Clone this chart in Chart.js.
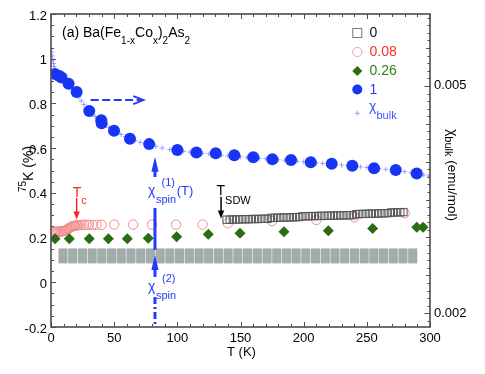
<!DOCTYPE html>
<html>
<head>
<meta charset="utf-8">
<script src="https://cdn.jsdelivr.net/npm/chart.js@4"></script>
<style>
  html, body { margin: 0; padding: 0; background: #fff; }
  #wrap { width: 485px; height: 374px; }
</style>
</head>
<body>
<div id="wrap"><canvas id="chart" width="485" height="374"></canvas></div>
<script>
// x = 0 (open squares)
const tempX0 = [139, 141.5, 144, 146.5, 149, 151.5, 154, 156.5, 159, 161.5, 164, 166.5, 169, 171.5,
  174, 176.5, 179, 181.5, 184, 186.5, 189, 191.5, 194, 196.5,
  199, 201.5, 204, 206.5, 209, 211.5, 214, 216.5, 219, 221.5, 224, 226.5, 229, 231.5, 234, 236.5, 239,
  241.5, 244, 246.5, 249, 251.5, 254, 256.5, 259, 261.5, 264, 266.5,
  269, 271.5, 274, 276.5, 279];
const kX0 = [0.280, 0.280, 0.281, 0.281, 0.281, 0.282, 0.282, 0.282, 0.283, 0.283, 0.283, 0.284, 0.284, 0.284,
  0.288, 0.288, 0.289, 0.289, 0.290, 0.290, 0.290, 0.291, 0.291, 0.292,
  0.295, 0.295, 0.296, 0.296, 0.296, 0.297, 0.297, 0.297, 0.298, 0.298, 0.298, 0.299, 0.299, 0.299, 0.300, 0.300, 0.300,
  0.305, 0.305, 0.306, 0.306, 0.307, 0.307, 0.307, 0.308, 0.308, 0.309, 0.309,
  0.312, 0.312, 0.313, 0.313, 0.314];

// x = 0.08 (open circles)
const tempX008 = [2, 3, 4, 5, 6, 7, 8, 9, 10, 11, 12, 13, 14, 15, 16, 17, 18, 19, 20, 21, 22, 24, 26, 28, 30, 33, 36, 40,
  50, 65, 80, 99, 120, 140, 175, 210, 240, 280];
const kX008 = [0.226, 0.226, 0.226, 0.226, 0.226, 0.227, 0.227, 0.228, 0.229, 0.231, 0.234, 0.237, 0.241, 0.244, 0.247,
  0.250, 0.252, 0.253, 0.254, 0.255, 0.256, 0.256, 0.257, 0.257, 0.257, 0.257, 0.257, 0.257,
  0.258, 0.258, 0.258, 0.258, 0.258, 0.264, 0.274, 0.279, 0.291, 0.309];

// x = 0.26 (diamonds)
const tempX026 = [3.2, 14.5, 30.3, 45.4, 60.4, 77, 99.5, 124.5, 149.6, 184.4, 219.5, 254.6, 289.5, 294.5];
const kX026 = [0.195, 0.195, 0.195, 0.195, 0.195, 0.197, 0.204, 0.215, 0.219, 0.226, 0.231, 0.241, 0.246, 0.246];

// x = 1 (filled circles)
const tempX1 = [3.2, 6.6, 8.3, 13.9, 20.3, 30.3, 39.8, 40.1, 49.9, 62.5, 77.7, 100, 115.1, 130.4, 145.1, 160.1,
  175.2, 190, 205.6, 222.2, 238.5, 255.7, 272.9, 289.5];
const kX1 = [0.932, 0.923, 0.916, 0.888, 0.851, 0.766, 0.725, 0.711, 0.678, 0.642, 0.618, 0.592, 0.580, 0.577,
  0.568, 0.559, 0.550, 0.547, 0.537, 0.530, 0.521, 0.510, 0.502, 0.487];

// bulk susceptibility, emu/mol (right axis)
const tempChi = [0.5, 1, 1.5, 2, 2.5, 3, 4, 5, 6.5, 8, 10, 12, 14, 16, 18, 20, 22, 24, 26, 28, 30, 32.5, 35, 37.5,
  40, 43, 46, 49, 52, 55.5, 59, 62.5, 66.5, 70.5, 74.5, 78.5, 83, 88, 94, 100,
  105, 110, 115, 120, 125, 130, 135, 140, 145, 150, 155, 160, 165, 170, 175, 180, 185, 190, 195, 200,
  205, 210, 215, 220, 225, 230, 235, 240, 245, 250, 255, 260, 265, 270, 275, 280, 285, 290, 295, 299];
const chiBulk = [0.005447, 0.005395, 0.005342, 0.005296, 0.005256, 0.005216, 0.005177, 0.005150, 0.005131, 0.005111,
  0.005084, 0.005051, 0.005018, 0.004979, 0.004939, 0.004900, 0.004854, 0.004801, 0.004755, 0.004708,
  0.004669, 0.004629, 0.004596, 0.004563, 0.004530, 0.004491, 0.004451, 0.004418, 0.004388, 0.004359,
  0.004332, 0.004306, 0.004280, 0.004257, 0.004237, 0.004220, 0.004201, 0.004181, 0.004161, 0.004148,
  0.004137, 0.004128, 0.004117, 0.004110, 0.004102, 0.004097, 0.004086, 0.004078, 0.004071, 0.004065,
  0.004058, 0.004051, 0.004045, 0.004038, 0.004028, 0.004025, 0.004020, 0.004013, 0.004005, 0.003999,
  0.003991, 0.003984, 0.003978, 0.003975, 0.003963, 0.003955, 0.003947, 0.003939, 0.003931, 0.003923,
  0.003916, 0.003905, 0.003900, 0.003892, 0.003881, 0.003869, 0.003856, 0.003842, 0.003825, 0.003811];

// chi_spin^(2) band (grey blocks): temperatures and K range
const bandT = [9.5, 17.2, 24.9, 32.6, 40.3, 48, 55.6, 63.3, 71, 78.7, 86.4, 94.1, 101.8, 109.5, 117.2, 124.8,
  132.5, 140.2, 147.9, 155.6, 163.3, 171, 178.7, 186.4, 194, 201.7, 209.4, 217.1, 224.8, 232.5, 240.2,
  247.9, 255.6, 263.2, 270.9, 278.6, 286.3];
const bandK = [0.086, 0.150];

// tick labels
const xTicks = [0, 50, 100, 150, 200, 250, 300];
const leftTicks = [-0.2, 0, 0.2, 0.4, 0.6, 0.8, 1, 1.2];
const rightTicks = [0.002, 0.005];
const seriesNames = ['0', '0.08', '0.26', '1'];

const FONT = '"Liberation Sans", Arial, sans-serif';
Chart.defaults.font.family = FONT;
Chart.defaults.font.size = 13;
Chart.defaults.color = '#000';

const pts = (xs, ys) => xs.map((t, i) => ({ x: t, y: ys[i] }));

function line(ctx, x1, y1, x2, y2) {
  ctx.beginPath(); ctx.moveTo(x1, y1); ctx.lineTo(x2, y2); ctx.stroke();
}
function head(ctx, x, tipY, dir, len, hw) {
  // dir = -1 points up, +1 points down
  ctx.beginPath();
  ctx.moveTo(x, tipY);
  ctx.lineTo(x - hw, tipY - dir * len);
  ctx.lineTo(x + hw, tipY - dir * len);
  ctx.closePath();
  ctx.fill();
}
function rich(ctx, x, y, parts) {
  let cx = x;
  parts.forEach(p => {
    ctx.font = p[1] + 'px ' + FONT;
    ctx.fillText(p[0], cx, y + (p[2] || 0));
    cx += ctx.measureText(p[0]).width;
  });
  return cx - x;
}
function richWidth(ctx, parts) {
  let w = 0;
  parts.forEach(p => { ctx.font = p[1] + 'px ' + FONT; w += ctx.measureText(p[0]).width; });
  return w;
}

// axis frame with inward ticks on all four sides
const framePlugin = {
  id: 'frame',
  afterDatasetsDraw(chart) {
    const { ctx, chartArea: a, scales: { x, y, y2 } } = chart;
    ctx.save();
    ctx.strokeStyle = '#4d4d4d';
    ctx.lineWidth = 1;
    for (let t = 0; t <= 300; t += 10) {
      const px = Math.round(x.getPixelForValue(t)) + 0.5;
      const len = t % 50 === 0 ? 5 : 3;
      line(ctx, px, a.bottom, px, a.bottom - len);
      line(ctx, px, a.top, px, a.top + len);
    }
    for (let i = -4; i <= 24; i++) {
      const py = Math.round(y.getPixelForValue(i * 0.05)) + 0.5;
      line(ctx, a.left, py, a.left + (i % 4 === 0 ? 5 : 3), py);
    }
    for (let i = 19; i <= 59; i++) {
      const py = Math.round(y2.getPixelForValue(i * 0.0001)) + 0.5;
      const len = (i === 20 || i === 50) ? 5.5 : (i % 5 === 0 ? 4 : 2.5);
      line(ctx, a.right, py, a.right - len, py);
    }
    ctx.lineWidth = 1.6;
    ctx.strokeRect(a.left, a.top, a.right - a.left, a.bottom - a.top);
    ctx.restore();
  }
};

// arrows, labels, title, legend, axis titles
const annotatePlugin = {
  id: 'annotate',
  afterDatasetsDraw(chart) {
    const { ctx, scales: { x, y } } = chart;
    const X = t => x.getPixelForValue(t);
    const Y = k => y.getPixelForValue(k);
    const blue = 'rgb(34,58,250)';
    ctx.save();
    ctx.textBaseline = 'alphabetic';

    // chi_spin arrows at T ~ 82 K
    const ax = X(82.3);
    ctx.strokeStyle = blue; ctx.fillStyle = blue; ctx.lineWidth = 3;
    head(ctx, ax, Y(0.562), -1, 15, 3.6);
    line(ctx, ax, Y(0.562) + 14, ax, Y(0.471));
    line(ctx, ax, Y(0.332), ax, Y(0.145));
    head(ctx, ax, Y(0.122), -1, 15, 3.6);
    line(ctx, ax, Y(0.122) + 14, ax, Y(0.024));
    ctx.setLineDash([7, 3, 2, 3]);
    line(ctx, ax, Y(-0.066), ax, Y(-0.2));
    ctx.setLineDash([]);
    const b1 = Y(0.3905);
    rich(ctx, ax - 7, b1, [['\u03c7', 14]]);
    rich(ctx, ax + 1, b1 + 8.5, [['spin', 11]]);
    rich(ctx, ax + 6.5, b1 - 8.5, [['(1)', 11]]);
    rich(ctx, ax + 21.7, b1, [['(T)', 13]]);
    const b2 = Y(-0.038);
    rich(ctx, ax - 7, b2, [['\u03c7', 14]]);
    rich(ctx, ax + 1, b2 + 8, [['spin', 11]]);
    rich(ctx, ax + 7, b2 - 8.5, [['(2)', 11]]);

    // dashed arrow pointing to the right axis
    const ay = Y(0.815), ax1 = X(31.4), ax2 = X(73.1);
    ctx.lineWidth = 2;
    ctx.setLineDash([8, 3.5]);
    line(ctx, ax1, ay, ax2 - 2, ay);
    ctx.setLineDash([]);
    ctx.beginPath();
    ctx.moveTo(ax2 - 10, ay - 4); ctx.lineTo(ax2, ay); ctx.lineTo(ax2 - 10, ay + 4);
    ctx.stroke();

    // Tc marker
    const red = '#ff2424';
    ctx.strokeStyle = red; ctx.fillStyle = red; ctx.lineWidth = 1.5;
    const tcx = X(20.3);
    line(ctx, tcx, Y(0.377), tcx, Y(0.281) - 6);
    head(ctx, tcx, Y(0.281), 1, 8, 3.2);
    rich(ctx, tcx - 4, Y(0.383), [['T', 14]]);
    rich(ctx, tcx + 4.5, Y(0.352), [['c', 11]]);

    // T_SDW marker
    ctx.strokeStyle = '#000'; ctx.fillStyle = '#000';
    const tsx = X(134.6);
    line(ctx, tsx, Y(0.3825), tsx, Y(0.285) - 6);
    head(ctx, tsx, Y(0.285), 1, 8, 3.2);
    rich(ctx, tsx - 4.5, Y(0.391), [['T', 14]]);
    rich(ctx, tsx + 4, Y(0.35), [['SDW', 11]]);

    // panel title
    ctx.fillStyle = '#000';
    rich(ctx, 62, 37, [['(a) Ba(Fe', 14], ['1-x', 10, 7], ['Co', 14], ['x', 10, 7], [')', 14], ['2', 10, 7],
      ['As', 14], ['2', 10, 7]]);

    // legend
    const lx = 357.3;
    ctx.lineWidth = 1;
    ctx.strokeStyle = '#7a7a7a';
    ctx.strokeRect(lx - 4.5, 33 - 4.5, 9, 9);
    ctx.strokeStyle = '#f4a0a0';
    ctx.beginPath(); ctx.arc(lx, 52, 4.6, 0, Math.PI * 2); ctx.stroke();
    ctx.fillStyle = '#2b6b14';
    ctx.beginPath(); ctx.moveTo(lx, 66); ctx.lineTo(lx + 5, 71); ctx.lineTo(lx, 76); ctx.lineTo(lx - 5, 71);
    ctx.closePath(); ctx.fill();
    ctx.fillStyle = '#1834f4';
    ctx.beginPath(); ctx.arc(lx, 89.5, 5, 0, Math.PI * 2); ctx.fill();
    ctx.strokeStyle = 'rgba(90,110,255,0.6)';
    line(ctx, lx - 2.5, 113.3, lx + 2.5, 113.3);
    line(ctx, lx, 110.8, lx, 115.8);
    const legColors = ['#111', '#ff2a2a', '#2e7d1c', '#2838ff'];
    const legY = [33, 52, 71, 89.5];
    ctx.textBaseline = 'middle';
    ctx.font = '14px ' + FONT;
    seriesNames.forEach((n, i) => { ctx.fillStyle = legColors[i]; ctx.fillText(n, 369.5, legY[i] + 0.5); });
    ctx.textBaseline = 'alphabetic';
    ctx.fillStyle = '#3a52ff';
    rich(ctx, 369, 111, [['\u03c7', 14]]);
    rich(ctx, 376.5, 119, [['bulk', 11]]);

    // axis titles
    ctx.fillStyle = '#000';
    const lt = [['75', 10, -7], ['K (%)', 14]];
    ctx.save();
    ctx.translate(33, 169);
    ctx.rotate(-Math.PI / 2);
    rich(ctx, -richWidth(ctx, lt) / 2, 0, lt);
    ctx.restore();

    const rt = [['\u03c7', 14], ['bulk', 11, 3], [' (emu/mol)', 13.5]];
    ctx.save();
    ctx.translate(448, 175);
    ctx.rotate(Math.PI / 2);
    rich(ctx, -richWidth(ctx, rt) / 2, 0, rt);
    ctx.restore();

    ctx.font = '13px ' + FONT;
    ctx.textAlign = 'center';
    ctx.fillText('T (K)', 241.5, 356);
    ctx.restore();
  }
};

new Chart(document.getElementById('chart'), {
  type: 'scatter',
  data: {
    datasets: [
      { label: seriesNames[3], data: pts(tempX1, kX1), pointStyle: 'circle', pointRadius: 6,
        pointBackgroundColor: '#1834f4', pointBorderColor: '#1834f4', pointBorderWidth: 0, order: 1 },
      { label: 'chi_bulk', data: pts(tempChi, chiBulk), yAxisID: 'y2', pointStyle: 'cross', pointRadius: 2.5,
        pointBorderColor: 'rgba(90,110,255,0.6)', pointBorderWidth: 1, order: 2 },
      { label: seriesNames[2], data: pts(tempX026, kX026), pointStyle: 'rectRot', pointRadius: 5.5,
        pointBackgroundColor: '#2b6b14', pointBorderColor: '#2b6b14', pointBorderWidth: 0, order: 3 },
      { label: seriesNames[0], data: pts(tempX0, kX0), pointStyle: 'rect', pointRadius: 5.2,
        pointBackgroundColor: 'rgba(255,255,255,0)', pointBorderColor: '#555', pointBorderWidth: 1, order: 4 },
      { label: seriesNames[1], data: pts(tempX008, kX008), pointStyle: 'circle', pointRadius: 4.7,
        pointBackgroundColor: 'rgba(255,255,255,0)', pointBorderColor: '#f28b8b', pointBorderWidth: 1, order: 5 },
      { type: 'bar', label: 'chi_spin2', data: bandT.map(t => ({ x: t, y: bandK })),
        backgroundColor: '#a2acaa', borderWidth: 0, barThickness: 8.5, grouped: false, order: 6 }
    ]
  },
  options: {
    responsive: false,
    animation: false,
    events: [],
    layout: { padding: { top: 14, left: 0, right: 0, bottom: 0 } },
    plugins: { legend: { display: false }, tooltip: { enabled: false } },
    scales: {
      x: {
        type: 'linear', min: 0, max: 300, offset: false,
        grid: { display: false, drawTicks: false }, border: { display: false },
        afterBuildTicks: s => { s.ticks = xTicks.map(v => ({ value: v })); },
        ticks: { padding: 4, maxRotation: 0, autoSkip: false, callback: v => String(v) },
        afterFit: s => { s.height = 47; }
      },
      y: {
        type: 'linear', position: 'left', min: -0.2, max: 1.2,
        grid: { display: false, drawTicks: false }, border: { display: false },
        afterBuildTicks: s => { s.ticks = leftTicks.map(v => ({ value: v })); },
        ticks: { padding: 4, labelOffset: 2, autoSkip: false, callback: v => String(Math.round(v * 10) / 10) },
        afterFit: s => { s.width = 51; }
      },
      y2: {
        type: 'linear', position: 'right', min: 0.001819, max: 0.005949,
        grid: { display: false, drawTicks: false }, border: { display: false },
        afterBuildTicks: s => { s.ticks = rightTicks.map(v => ({ value: v })); },
        ticks: { padding: 4, autoSkip: false, callback: v => v.toFixed(3) },
        afterFit: s => { s.width = 55; }
      }
    }
  },
  plugins: [framePlugin, annotatePlugin]
});
</script>
</body>
</html>
